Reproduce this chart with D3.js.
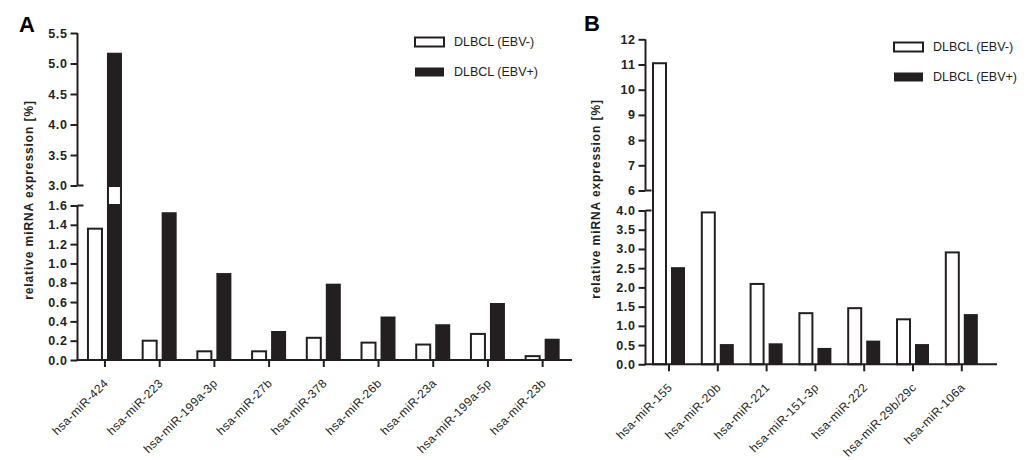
<!DOCTYPE html>
<html><head><meta charset="utf-8">
<script src="https://cdn.jsdelivr.net/npm/d3@7"></script>
<style>
body{margin:0;background:#fff;}
svg{display:block;font-family:"Liberation Sans",Arial,sans-serif;}
</style></head>
<body><svg id="c" width="1034" height="460"></svg>
<script>
// ---- Panel A data ----
const categoriesA = ["hsa-miR-424","hsa-miR-223","hsa-miR-199a-3p","hsa-miR-27b","hsa-miR-378","hsa-miR-26b","hsa-miR-23a","hsa-miR-199a-5p","hsa-miR-23b"];
const ebvNegA = [1.36,0.20,0.09,0.09,0.23,0.18,0.16,0.27,0.04];
const ebvPosA = [5.16,1.52,0.89,0.29,0.78,0.44,0.36,0.58,0.21];
const ticksALow = [0,0.2,0.4,0.6,0.8,1.0,1.2,1.4,1.6];
const ticksAHigh = [3.0,3.5,4.0,4.5,5.0,5.5];
const breakA = [1.6,3.0];
// ---- Panel B data ----
const categoriesB = ["hsa-miR-155","hsa-miR-20b","hsa-miR-221","hsa-miR-151-3p","hsa-miR-222","hsa-miR-29b/29c","hsa-miR-106a"];
const ebvNegB = [11.05,3.95,2.09,1.33,1.46,1.17,2.91];
const ebvPosB = [2.50,0.50,0.52,0.40,0.59,0.50,1.28];
const ticksBLow = [0,0.5,1.0,1.5,2.0,2.5,3.0,3.5,4.0];
const ticksBHigh = [6,7,8,9,10,11,12];
const breakB = [4,6];
const seriesNames = ["DLBCL (EBV-)","DLBCL (EBV+)"];

const svg = d3.select("#c");
const INK = "#231f20";

function panel(o){
  const g = svg.append("g");
  const y = d3.scaleLinear()
    .domain([0, o.brk[0], o.brk[1], o.ticksHigh[o.ticksHigh.length-1]])
    .range([o.base, o.brkY[0], o.brkY[1], o.top]);
  const x = d3.scaleBand().domain(o.cats).range(o.xRange).padding(0);
  const ax = o.axisX;
  // y axis
  const yAxis = d3.axisLeft(y).tickValues(o.ticksLow.concat(o.ticksHigh))
    .tickSize(7).tickPadding(3).tickFormat(o.fmt);
  const ya = g.append("g").attr("transform",`translate(${ax},0)`).call(yAxis);
  ya.select(".domain").remove();
  ya.selectAll(".tick line").attr("stroke",INK).attr("stroke-width",2);
  ya.selectAll(".tick text").attr("fill",INK).attr("font-size","12.5px")
    .attr("font-weight","bold").attr("letter-spacing","0.6px");
  // axis segments with break
  g.append("line").attr("x1",ax).attr("x2",ax).attr("y1",y(0)).attr("y2",y(o.brk[0]))
    .attr("stroke",INK).attr("stroke-width",2);
  g.append("line").attr("x1",ax).attr("x2",ax).attr("y1",y(o.brk[1])).attr("y2",y(o.ticksHigh[o.ticksHigh.length-1]))
    .attr("stroke",INK).attr("stroke-width",2);
  o.brk.forEach(v=>{
    g.append("line").attr("x1",ax).attr("x2",ax+6).attr("y1",y(v)).attr("y2",y(v))
      .attr("stroke",INK).attr("stroke-width",2);
  });
  // bars
  const c = d => x(d) + x.bandwidth()/2;
  g.selectAll(".neg").data(o.cats).join("rect")
    .attr("x",d=>c(d)-o.bw-2).attr("width",o.bw-1)
    .attr("y",(d,i)=>y(o.neg[i])).attr("height",(d,i)=>y(0)-y(o.neg[i]))
    .attr("fill","#fff").attr("stroke",INK).attr("stroke-width",2);
  g.selectAll(".pos").data(o.cats).join("rect")
    .attr("x",d=>c(d)+2).attr("width",o.bw)
    .attr("y",(d,i)=>y(o.pos[i])-1).attr("height",(d,i)=>y(0)-y(o.pos[i])+1)
    .attr("fill",INK);
  // break inset in bars that cross the break
  o.cats.forEach((d,i)=>{
    if(o.pos[i] > o.brk[1]){
      g.append("rect").attr("x",c(d)+3.5).attr("width",o.bw-3)
        .attr("y",y(o.brk[1])+1).attr("height",y(o.brk[0])-y(o.brk[1])-2)
        .attr("fill","#fff").attr("stroke",INK).attr("stroke-width",1);
    }
  });
  // x axis
  g.append("line").attr("x1",ax-1).attr("x2",o.xEnd).attr("y1",y(0)).attr("y2",y(0))
    .attr("stroke",INK).attr("stroke-width",2);
  const xa = g.append("g").attr("transform",`translate(0,${y(0)})`)
    .call(d3.axisBottom(x).tickSize(7).tickFormat(""));
  xa.select(".domain").remove();
  xa.selectAll(".tick line").attr("stroke",INK).attr("stroke-width",2);
  g.selectAll(".xl").data(o.cats).join("text")
    .attr("transform",d=>`translate(${c(d)+4},${y(0)+24}) rotate(-45)`)
    .attr("text-anchor","end").attr("font-size","12px").attr("letter-spacing","0.4px")
    .attr("fill",INK).text(d=>d);
  // y title
  g.append("text").attr("transform",`translate(${o.titleX},${o.titleY}) rotate(-90)`)
    .attr("text-anchor","middle").attr("font-size","12px").attr("font-weight","bold")
    .attr("letter-spacing","0.9px").attr("fill",INK).text("relative miRNA expression [%]");
  // panel letter
  g.append("text").attr("x",o.letterX).attr("y",o.letterY).attr("font-size","22px")
    .attr("font-weight","bold").attr("fill","#000").text(o.letter);
  // legend
  seriesNames.forEach((s,i)=>{
    const ly = o.legY + i*30;
    g.append("rect").attr("x",o.legX).attr("y",ly-4.5).attr("width",29).attr("height",9)
      .attr("fill",i?INK:"#fff").attr("stroke",INK).attr("stroke-width",i?0:2);
    g.append("text").attr("x",o.legX+39).attr("y",ly).attr("dy","0.35em")
      .attr("font-size","12.5px").attr("fill",INK).text(s);
  });
}

panel({cats:categoriesA,neg:ebvNegA,pos:ebvPosA,ticksLow:ticksALow,ticksHigh:ticksAHigh,
  brk:breakA,base:360,brkY:[205.5,185.5],top:33,axisX:77.5,xRange:[77.6,570],xEnd:572,bw:15,
  fmt:d3.format(".1f"),titleX:33,titleY:200,letter:"A",letterX:19,letterY:32,legX:415,legY:42});
panel({cats:categoriesB,neg:ebvNegB,pos:ebvPosB,ticksLow:ticksBLow,ticksHigh:ticksBHigh,
  brk:breakB,base:364.3,brkY:[210.5,190.5],top:39.3,axisX:645.5,xRange:[644.6,986.2],xEnd:997,bw:14,
  fmt:d=>d>=6?d3.format("d")(d):d3.format(".1f")(d),titleX:600,titleY:199,letter:"B",letterX:584,letterY:31,legX:894,legY:47});
</script></body></html>
